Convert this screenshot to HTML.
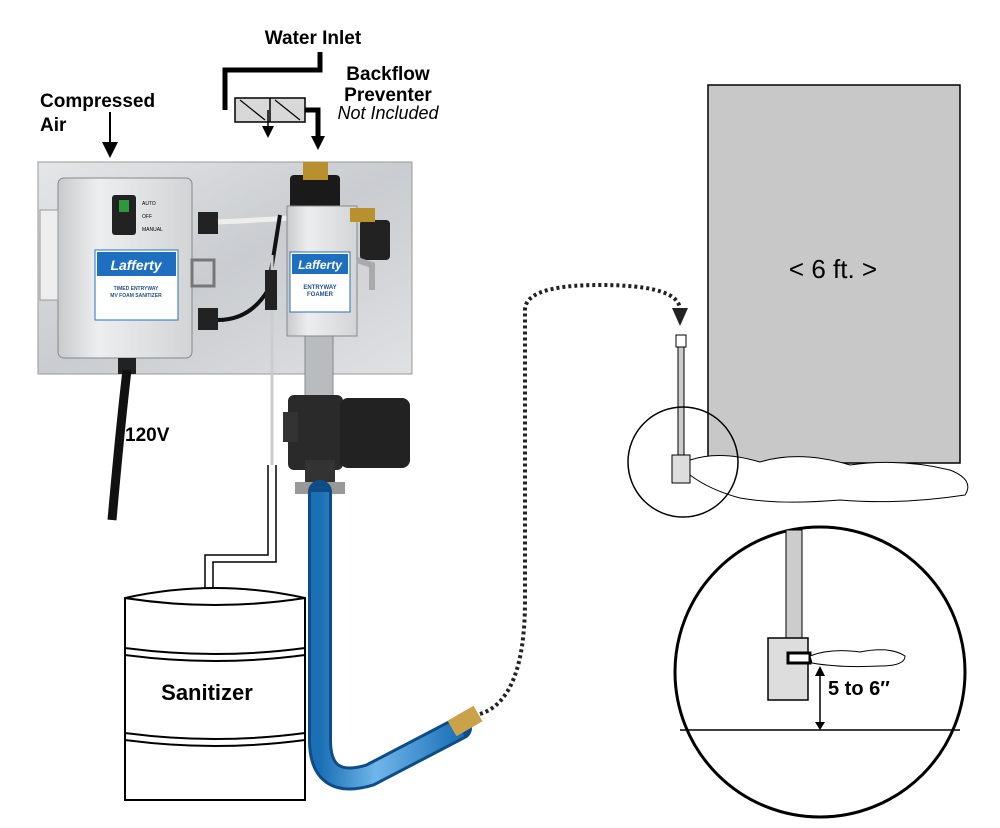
<!DOCTYPE html>
<html><head><meta charset="utf-8"><style>
html,body{margin:0;padding:0;background:#fff;}
svg{display:block;}
text{font-family:"Liberation Sans",sans-serif;}
</style></head><body>
<svg width="1000" height="828" viewBox="0 0 1000 828" xmlns="http://www.w3.org/2000/svg">
<defs>
<linearGradient id="plate" x1="0" y1="0" x2="1" y2="1"><stop offset="0" stop-color="#e4e6e8"/><stop offset="0.5" stop-color="#c9ccd0"/><stop offset="1" stop-color="#dfe1e3"/></linearGradient>
<linearGradient id="box" x1="0" y1="0" x2="1" y2="0"><stop offset="0" stop-color="#c8cacc"/><stop offset="0.3" stop-color="#eceeef"/><stop offset="1" stop-color="#d2d4d6"/></linearGradient>
<linearGradient id="hose" x1="0" y1="0" x2="1" y2="0"><stop offset="0" stop-color="#1a6fb5"/><stop offset="0.4" stop-color="#6fb6ea"/><stop offset="1" stop-color="#1c70b8"/></linearGradient>
<marker id="ah" markerWidth="8" markerHeight="8" refX="4" refY="4" orient="auto"><path d="M0,0 L8,4 L0,8 z" fill="#000"/></marker>
</defs>

<!-- Texts top -->
<text x="313" y="44" font-size="19" font-weight="bold" text-anchor="middle">Water Inlet</text>
<text x="388" y="80" font-size="19" font-weight="bold" text-anchor="middle">Backflow</text>
<text x="388" y="101" font-size="19" font-weight="bold" text-anchor="middle">Preventer</text>
<text x="388" y="119" font-size="18" font-style="italic" text-anchor="middle">Not Included</text>
<text x="40" y="107" font-size="19" font-weight="bold">Compressed</text>
<text x="40" y="131" font-size="19" font-weight="bold">Air</text>
<text x="125" y="441" font-size="19" font-weight="bold">120V</text>

<!-- water pipe -->
<path d="M320,52 L320,70 L225,70 L225,110" fill="none" stroke="#000" stroke-width="5"/>
<rect x="235" y="98" width="70" height="24" fill="#d8d8d8" stroke="#000" stroke-width="1.5"/>
<line x1="270" y1="98" x2="270" y2="122" stroke="#000" stroke-width="1.5"/>
<path d="M240,100 L265,120 M275,100 L300,120" stroke="#000" stroke-width="1.2"/>
<line x1="268" y1="110" x2="268" y2="132" stroke="#000" stroke-width="1.5" marker-end="url(#ah)"/>
<path d="M305,110 L318,110 L318,140" fill="none" stroke="#000" stroke-width="5"/>
<path d="M311,136 L325,136 L318,150 z" fill="#000"/>
<line x1="110" y1="112" x2="110" y2="150" stroke="#000" stroke-width="2" marker-end="url(#ah)"/>

<!-- plate -->
<rect x="38" y="162" width="374" height="212" fill="url(#plate)" stroke="#999"/>

<!-- control box -->
<rect x="58" y="178" width="134" height="180" rx="6" fill="url(#box)" stroke="#888"/>
<rect x="40" y="210" width="18" height="90" fill="#eee" stroke="#999"/>
<rect x="112" y="195" width="24" height="40" rx="3" fill="#222"/>
<rect x="119" y="200" width="10" height="12" fill="#2b9a3a"/>
<text x="142" y="205" font-size="5">AUTO</text><text x="142" y="218" font-size="5">OFF</text><text x="142" y="231" font-size="5">MANUAL</text>
<rect x="95" y="250" width="83" height="70" fill="#fff" stroke="#2a6fb8"/>
<rect x="97" y="252" width="79" height="24" fill="#1f6fc0"/>
<text x="136" y="270" font-size="14" font-weight="bold" font-style="italic" fill="#fff" text-anchor="middle">Lafferty</text>
<text x="136" y="290" font-size="5" font-weight="bold" fill="#1f4f90" text-anchor="middle">TIMED ENTRYWAY</text>
<text x="136" y="297" font-size="5" font-weight="bold" fill="#1f4f90" text-anchor="middle">MV FOAM SANITIZER</text>
<rect x="198" y="212" width="20" height="22" fill="#222"/>
<rect x="198" y="308" width="20" height="22" fill="#222"/>
<rect x="192" y="260" width="22" height="26" fill="none" stroke="#777" stroke-width="3"/>
<path d="M218,222 Q260,220 290,218" fill="none" stroke="#eee" stroke-width="5"/>
<path d="M218,320 Q250,320 268,290 L280,215" fill="none" stroke="#111" stroke-width="4"/>

<!-- solenoid -->
<rect x="290" y="175" width="50" height="35" rx="4" fill="#1a1a1a"/>
<rect x="303" y="162" width="25" height="18" fill="#b8902e"/>
<!-- foamer -->
<rect x="287" y="206" width="70" height="130" fill="url(#box)" stroke="#888"/>
<rect x="290" y="252" width="60" height="60" fill="#fff" stroke="#2a6fb8"/>
<rect x="292" y="254" width="56" height="20" fill="#1f6fc0"/>
<text x="320" y="269" font-size="12" font-weight="bold" font-style="italic" fill="#fff" text-anchor="middle">Lafferty</text>
<text x="320" y="289" font-size="6" font-weight="bold" fill="#1f4f90" text-anchor="middle">ENTRYWAY</text>
<text x="320" y="296" font-size="6" font-weight="bold" fill="#1f4f90" text-anchor="middle">FOAMER</text>
<rect x="360" y="220" width="30" height="40" rx="4" fill="#222"/>
<rect x="350" y="208" width="25" height="14" fill="#b8902e"/>
<path d="M357,260 L372,265 L372,290" fill="none" stroke="#aaa" stroke-width="6"/>
<path d="M272,255 L272,465" stroke="#ccc" stroke-width="3"/>
<rect x="265" y="270" width="12" height="40" fill="#222"/>

<!-- pipe -->
<rect x="305" y="336" width="28" height="64" fill="#b9bcbf" stroke="#888"/>
<!-- nozzle -->
<rect x="288" y="395" width="55" height="75" rx="6" fill="#2a2a2a"/>
<rect x="340" y="398" width="70" height="70" rx="8" fill="#222"/>
<rect x="283" y="412" width="15" height="30" fill="#333"/>
<rect x="305" y="460" width="30" height="25" fill="#333"/>
<rect x="295" y="482" width="50" height="12" fill="#999"/>

<!-- power cord -->
<rect x="118" y="358" width="18" height="16" fill="#222"/>
<path d="M127,370 Q120,430 112,520" fill="none" stroke="#111" stroke-width="9"/>

<!-- sanitizer tube -->
<path d="M268,465 L268,555 L205,555 L205,590 M276,465 L276,562 L213,562 L213,590" fill="none" stroke="#000" stroke-width="1.5"/>
<!-- drum -->
<path d="M125,598 Q215,578 305,598 L305,800 L125,800 Z" fill="#fff" stroke="#000" stroke-width="2"/>
<path d="M125,598 Q215,612 305,598" fill="none" stroke="#000" stroke-width="2"/>
<path d="M125,648 Q215,660 305,648 M125,655 Q215,667 305,655 M125,733 Q215,745 305,733 M125,740 Q215,752 305,740" fill="none" stroke="#000" stroke-width="2"/>
<text x="207" y="700" font-size="22" font-weight="bold" text-anchor="middle">Sanitizer</text>

<!-- hose -->
<path d="M320,492 L320,740 Q320,790 370,775 L460,728" fill="none" stroke="#0d4c86" stroke-width="24" stroke-linecap="round"/>
<path d="M320,492 L320,740 Q320,790 370,775 L460,728" fill="none" stroke="url(#hose)" stroke-width="18"/>
<rect x="450" y="712" width="30" height="18" fill="#c9a24a" transform="rotate(-30 465 721)"/>

<!-- dotted line -->
<path d="M480,714 Q525,700 525,600 L525,310 Q525,285 600,285 Q680,285 680,310" fill="none" stroke="#222" stroke-width="4" stroke-dasharray="3,3"/>
<path d="M672,308 L688,308 L680,326 z" fill="#222"/>

<!-- grey wall block -->
<rect x="708" y="85" width="252" height="378" fill="#c8c8c8" stroke="#000" stroke-width="1.5"/>
<text x="833" y="278" font-size="26" text-anchor="middle">&lt; 6 ft. &gt;</text>

<!-- wand + foam -->
<rect x="676" y="335" width="10" height="12" fill="#fff" stroke="#000"/>
<rect x="678" y="347" width="6" height="110" fill="#ccc" stroke="#000"/>
<rect x="672" y="455" width="18" height="28" fill="#ddd" stroke="#000"/>
<path d="M690,460 Q720,450 760,462 Q800,450 850,465 Q900,458 950,470 Q975,480 965,495 Q900,505 840,500 Q780,505 740,498 Q710,490 690,475 Z" fill="#fff" stroke="#000"/>
<circle cx="683" cy="462" r="55" fill="none" stroke="#000" stroke-width="1.5"/>

<!-- big circle -->
<circle cx="820" cy="672" r="145" fill="#fff" stroke="#000" stroke-width="3"/>
<rect x="786" y="530" width="16" height="110" fill="#ccc" stroke="#000"/>
<rect x="768" y="638" width="40" height="62" fill="#ddd" stroke="#000" stroke-width="1.5"/>
<rect x="788" y="653" width="22" height="10" fill="#fff" stroke="#000" stroke-width="3"/>
<path d="M810,656 Q830,648 860,652 Q890,646 905,656 Q905,666 880,666 Q840,668 812,663 Z" fill="#fff" stroke="#000"/>
<line x1="680" y1="730" x2="960" y2="730" stroke="#000" stroke-width="1.5"/>
<line x1="820" y1="668" x2="820" y2="728" stroke="#000" stroke-width="1.5"/>
<path d="M815,676 L820,666 L825,676 z M815,722 L820,730 L825,722 z" fill="#000"/>
<text x="828" y="695" font-size="20" font-weight="bold">5 to 6″</text>
</svg>
</body></html>
